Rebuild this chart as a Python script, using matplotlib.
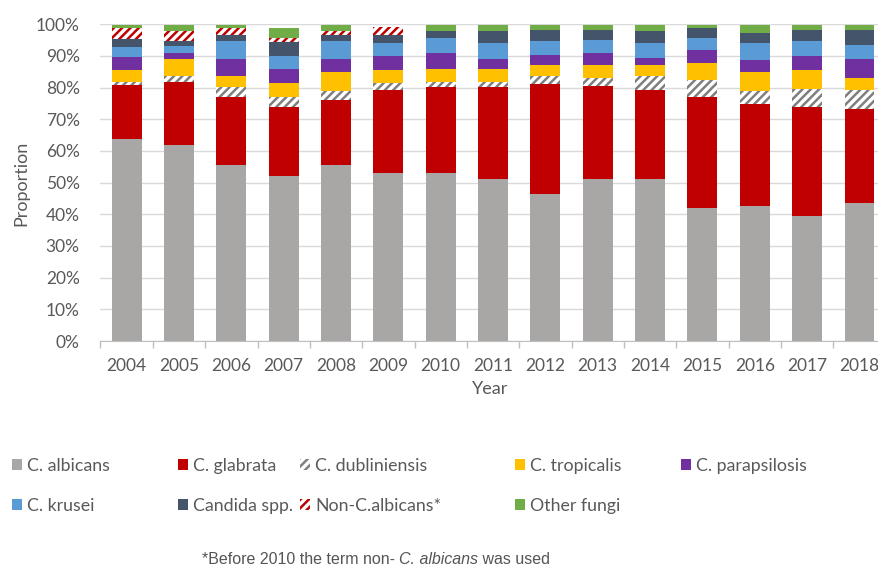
import matplotlib
matplotlib.use("Agg")
import matplotlib.pyplot as plt
import matplotlib.ticker as mticker
import numpy as np

# ── Data (percent of isolates per year) ─────────────────────────────────────
years = ["2004", "2005", "2006", "2007", "2008", "2009", "2010", "2011",
         "2012", "2013", "2014", "2015", "2016", "2017", "2018"]

albicans      = [63.9, 61.8, 55.7, 52.1, 55.5, 53.1, 53.1, 51.0, 46.3, 51.0, 51.0, 42.0, 42.6, 39.5, 43.6]
glabrata      = [16.8, 20.0, 21.3, 21.7, 20.5, 26.0, 27.1, 29.2, 34.7, 29.5, 28.1, 35.0, 32.3, 34.3, 29.7]
dubliniensis  = [1.1, 1.8, 3.2, 3.2, 2.8, 2.5, 1.6, 1.6, 2.6, 2.6, 4.6, 5.3, 3.9, 5.9, 5.8]
tropicalis    = [3.9, 5.3, 3.4, 4.5, 6.0, 4.1, 4.2, 4.2, 3.7, 4.2, 3.6, 5.5, 6.0, 5.8, 4.1]
parapsilosis  = [4.0, 2.1, 5.3, 4.3, 4.1, 4.3, 5.0, 3.2, 3.1, 3.5, 2.1, 4.2, 3.8, 4.4, 5.8]
krusei        = [3.2, 2.2, 5.7, 4.2, 5.7, 4.2, 4.7, 5.0, 4.2, 4.2, 4.8, 3.7, 5.6, 4.7, 4.6]
candida_spp   = [2.6, 1.4, 1.9, 4.4, 1.9, 2.3, 2.1, 3.6, 3.5, 3.1, 3.6, 3.0, 2.9, 3.5, 4.5]
non_albicans  = [3.2, 3.2, 2.2, 1.3, 1.3, 2.5, 0, 0, 0, 0, 0, 0, 0, 0, 0]
other_fungi   = [1.0, 1.9, 1.0, 3.0, 1.9, 0.0, 2.1, 2.1, 1.8, 1.8, 2.1, 1.2, 2.8, 1.8, 1.8]

labels = ["C. albicans", "C. glabrata", "C. dubliniensis", "C. tropicalis",
          "C. parapsilosis", "C. krusei", "Candida spp.", "Non-C.albicans*",
          "Other fungi"]
values = [albicans, glabrata, dubliniensis, tropicalis, parapsilosis,
          krusei, candida_spp, non_albicans, other_fungi]

# ── Styles ──────────────────────────────────────────────────────────────────
styles = [
    dict(color="#A9A6A6"),
    dict(color="#C00000"),
    dict(facecolor="white", edgecolor="#7F7F7F", hatch="////"),
    dict(color="#FFC000"),
    dict(color="#7030A0"),
    dict(color="#5B9BD5"),
    dict(color="#44546A"),
    dict(facecolor="white", edgecolor="#C00000", hatch="////"),
    dict(color="#70AD47"),
]
# legend slot: (marker left x px, row centre y px)
legend_pos = [(12, 466), (178, 466), (300, 466), (515, 466), (681, 466),
              (12, 506), (178, 506), (300, 506), (515, 506)]

text_grey = "#595959"
plt.rcParams["font.family"] = ["Lato", "DejaVu Sans"]
plt.rcParams["hatch.linewidth"] = 1.8

W, H = 879, 569
fig = plt.figure(figsize=(W / 100, H / 100), dpi=100)
ax = fig.add_axes([100.5 / W, 1 - 341 / H, 785.1 / W, (341 - 24.3) / H])

x = np.arange(len(years))
bottom = np.zeros(len(years))
handles = []
for vals, st in zip(values, styles):
    vals = np.array(vals, dtype=float)
    bars = ax.bar(x, vals, bottom=bottom, width=0.57, linewidth=0, zorder=3, **st)
    handles.append(bars)
    bottom += vals

ax.set_xlim(-0.5, len(years) - 0.5)
ax.set_ylim(0, 100)
ax.set_yticks(range(0, 101, 10))
ax.yaxis.set_major_formatter(mticker.PercentFormatter(xmax=100, decimals=0))
ax.set_xticks(x)
ax.set_xticklabels(years)
ax.set_xticks(np.arange(-0.5, len(years), 1.0), minor=True)
ax.tick_params(axis="x", which="major", length=0, pad=12, labelsize=12.5, labelcolor=text_grey)
ax.tick_params(axis="x", which="minor", length=5, color="#BFBFBF", width=1)
ax.tick_params(axis="y", length=0, pad=15, labelsize=12.5, labelcolor=text_grey)

ax.grid(axis="y", color="#D9D9D9", linewidth=1, zorder=0)
for side in ["top", "right", "left"]:
    ax.spines[side].set_visible(False)
ax.spines["bottom"].set_color("#BFBFBF")
ax.spines["bottom"].set_zorder(4)

ax.set_ylabel("Proportion", fontsize=13, color=text_grey)
ax.yaxis.set_label_coords((21 - 100.5) / 785.1, (341 - 183) / (341 - 24.3))
ax.yaxis.label.set_verticalalignment("center")
ax.set_xlabel("Year", fontsize=13, color=text_grey)
ax.xaxis.set_label_coords((490 - 100.5) / 785.1, -(389 - 341) / (341 - 24.3))
ax.xaxis.label.set_verticalalignment("center")

# ── Legend (one entry per slot, as in the source layout) ────────────────────
for h, lab, (lx, ly) in zip(handles, labels, legend_pos):
    fig.legend([h], [lab], loc="center left",
               bbox_to_anchor=(lx / W, 1 - ly / H), frameon=False,
               handlelength=0.55, handleheight=0.55, handletextpad=0.3,
               borderpad=0, borderaxespad=0, fontsize=12.8,
               labelcolor=text_grey)

# ── Footnote with italic species name ──────────────────────────────────────
fig.canvas.draw()
renderer = fig.canvas.get_renderer()
parts = [("*Before 2010 the term non- ", "normal"), ("C. albicans", "italic"),
         (" was used", "normal")]
fx = 202 / W
for txt, style in parts:
    t = fig.text(fx, 1 - 560 / H, txt, fontsize=11.5, color="#555555",
                 family="Liberation Sans", style=style, va="center", ha="left")
    bb = t.get_window_extent(renderer=renderer)
    fx += bb.width / W

fig.savefig("out.png", dpi=100)
